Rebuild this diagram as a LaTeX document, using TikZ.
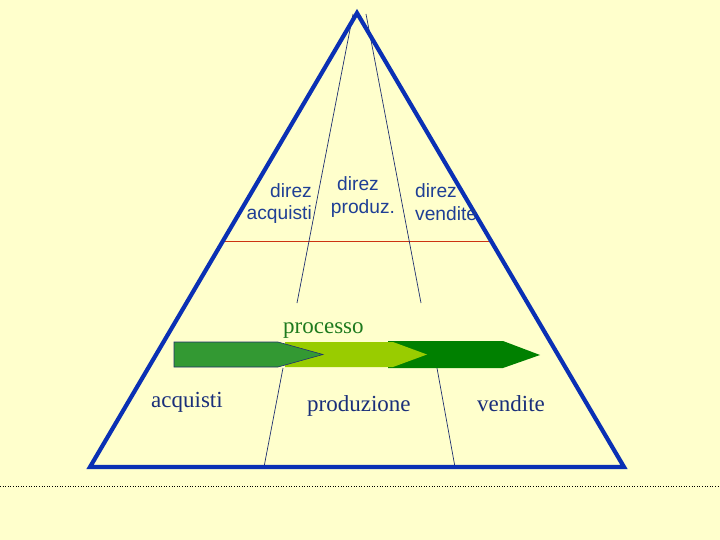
\documentclass[tikz,border=0pt]{standalone}
\usepackage{fontspec}
\setmainfont{Liberation Serif}
\newfontfamily\arialfont{Liberation Sans}
\definecolor{bgyellow}{HTML}{FFFFCC}
\definecolor{triblue}{HTML}{0A30B4}
\definecolor{thinnavy}{HTML}{1F3070}
\definecolor{sansblue}{HTML}{1F3F95}
\definecolor{serifblue}{HTML}{1A2F7A}
\definecolor{redline}{HTML}{CC3311}
\definecolor{procgreen}{HTML}{1E7A1E}
\definecolor{arrowA}{HTML}{339933}
\definecolor{arrowB}{HTML}{99CC00}
\definecolor{arrowC}{HTML}{008000}
\tikzset{
  tri/.style={draw=triblue, line width=4.2pt, line join=miter},
  divline/.style={draw=thinnavy, line width=0.7pt},
  dirtext/.style={font=\arialfont\fontsize{19.2}{22}\selectfont, text=sansblue, inner sep=0pt},
  phasetext/.style={font=\fontsize{23}{27}\selectfont, text=serifblue, inner sep=0pt, anchor=base west},
}
\begin{document}
\begin{tikzpicture}[x=1pt,y=-1pt]
\fill[bgyellow] (0,0) rectangle (720,540);
\useasboundingbox (0,0) rectangle (720,540);
% coordinates
\coordinate (apex) at (357,13);
\coordinate (bl) at (90,467);
\coordinate (br) at (624,467);
\coordinate (l1) at (353,14);
\coordinate (l2) at (297,303);
\coordinate (l3) at (283,368);
\coordinate (l4) at (264,467);
\coordinate (r1) at (366,14);
\coordinate (r2) at (421,303);
\coordinate (r3) at (437,368);
\coordinate (r4) at (455,467);
\coordinate (redL) at (222,241);
\coordinate (redR) at (493,241);
\coordinate (dotL) at (0,486);
\coordinate (dotR) at (720,486);
% dotted separator
\draw[black, line width=0.6pt, dotted] (dotL) -- (dotR);
% red line
\draw[redline, line width=1pt] (redL) -- (redR);
% division lines
\draw[divline] (l1) -- (l2);
\draw[divline] (l3) -- (l4);
\draw[divline] (r1) -- (r2);
\draw[divline] (r3) -- (r4);
% triangle
\draw[tri] (apex) -- (br) -- (bl) -- cycle;
% arrows
\fill[arrowC] (388,341) -- (503,341) -- (540,355) -- (503,368) -- (388,368) -- cycle;
\fill[arrowB] (285,342) -- (393,342) -- (427,354.5) -- (393,367) -- (285,367) -- cycle;
\filldraw[fill=arrowA, draw=thinnavy, line width=0.6pt] (174,342) -- (278,342) -- (323,354.5) -- (278,367) -- (174,367) -- cycle;
% department texts
\node[dirtext, anchor=base east] (dA1) at (312,197) {direz};
\node[dirtext, anchor=base east] (dA2) at (312,220) {acquisti};
\node[dirtext, anchor=base] (dP1) at (358,191) {direz};
\node[dirtext, anchor=base] (dP2) at (363,214) {produz.};
\node[dirtext, anchor=base west] (dV1) at (415,197) {direz};
\node[dirtext, anchor=base west] (dV2) at (415,221) {vendite};
% process label
\node[font=\fontsize{23}{27}\selectfont, text=procgreen, inner sep=0pt, anchor=base west] (proc) at (283,333) {processo};
% phase labels
\node[phasetext] (pA) at (151,407) {acquisti};
\node[phasetext] (pP) at (307,411) {produzione};
\node[phasetext] (pV) at (477,411) {vendite};
\end{tikzpicture}
\end{document}
